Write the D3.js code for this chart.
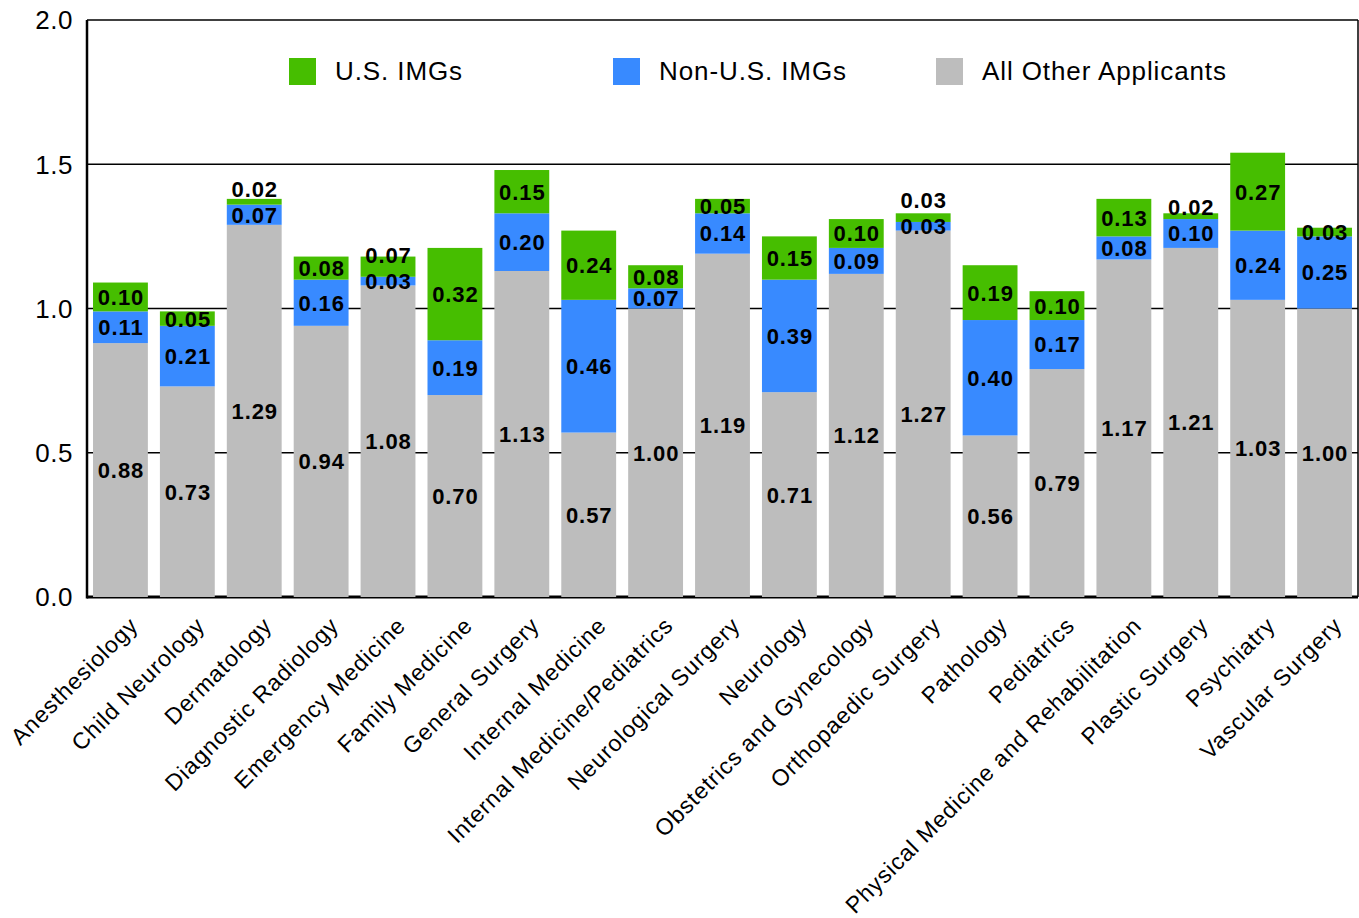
<!DOCTYPE html>
<html><head><meta charset="utf-8">
<script src="https://cdn.jsdelivr.net/npm/d3@7"></script>
<style>
html,body{margin:0;padding:0;background:#fff;}
svg{display:block;font-family:"Liberation Sans",Arial,sans-serif;}
</style></head>
<body>
<svg id="chart" width="1359" height="918"></svg>
<script>
const categories = ["Anesthesiology","Child Neurology","Dermatology","Diagnostic Radiology","Emergency Medicine","Family Medicine","General Surgery","Internal Medicine","Internal Medicine/Pediatrics","Neurological Surgery","Neurology","Obstetrics and Gynecology","Orthopaedic Surgery","Pathology","Pediatrics","Physical Medicine and Rehabilitation","Plastic Surgery","Psychiatry","Vascular Surgery"];
const allOther = [0.88,0.73,1.29,0.94,1.08,0.70,1.13,0.57,1.00,1.19,0.71,1.12,1.27,0.56,0.79,1.17,1.21,1.03,1.00];
const nonUSIMG = [0.11,0.21,0.07,0.16,0.03,0.19,0.20,0.46,0.07,0.14,0.39,0.09,0.03,0.40,0.17,0.08,0.10,0.24,0.25];
const usIMG    = [0.10,0.05,0.02,0.08,0.07,0.32,0.15,0.24,0.08,0.05,0.15,0.10,0.03,0.19,0.10,0.13,0.02,0.27,0.03];
const yTicks = [0.0,0.5,1.0,1.5,2.0];
const seriesNames = ["U.S. IMGs","Non-U.S. IMGs","All Other Applicants"];
const seriesColors = ["#46be00","#388aff","#bdbdbd"];

const svg = d3.select("#chart");
const L = 87, R = 1358, T = 20, B = 597;

const x = d3.scaleBand().domain(categories).range([L, R]).paddingInner(0.18).paddingOuter(0.09);
const y = d3.scaleLinear().domain([0, 2]).range([B, T]);

const rows = categories.map((c, i) => ({cat: c, other: allOther[i], non: nonUSIMG[i], us: usIMG[i]}));
const stack = d3.stack().keys(["other","non","us"])(rows);
const colorByKey = {other: seriesColors[2], non: seriesColors[1], us: seriesColors[0]};

// gridlines
svg.append("g").selectAll("line").data(yTicks.filter(t => t > 0 && t < 2)).join("line")
  .attr("x1", L).attr("x2", R).attr("y1", d => y(d)).attr("y2", d => y(d))
  .attr("stroke", "#000").attr("stroke-width", 1.3);

// bottom axis line (under bars)
svg.append("line").attr("x1", L).attr("x2", R).attr("y1", B).attr("y2", B)
  .attr("stroke", "#000").attr("stroke-width", 3);

// bars
svg.append("g").selectAll("g").data(stack).join("g")
  .attr("fill", d => colorByKey[d.key])
  .selectAll("rect").data(d => d).join("rect")
  .attr("x", d => x(d.data.cat))
  .attr("width", x.bandwidth())
  .attr("y", d => y(d[1]))
  .attr("height", d => y(d[0]) - y(d[1]));

// frame
svg.append("line").attr("x1", L).attr("x2", L).attr("y1", T).attr("y2", B + 1.5).attr("stroke", "#000").attr("stroke-width", 2.5);
svg.append("line").attr("x1", L).attr("x2", R).attr("y1", T).attr("y2", T).attr("stroke", "#000").attr("stroke-width", 1.5);
svg.append("line").attr("x1", R).attr("x2", R).attr("y1", T).attr("y2", B).attr("stroke", "#000").attr("stroke-width", 1.5);

// value labels
const labelG = svg.append("g").attr("font-size", 22).attr("font-weight", "bold").attr("text-anchor", "middle").attr("letter-spacing", 0.9).attr("fill", "#000");
rows.forEach((r, i) => {
  const cx = x(r.cat) + x.bandwidth() / 2 + 0.5;
  const c0 = (y(0) + y(r.other)) / 2;
  const c1 = (y(r.other) + y(r.other + r.non)) / 2;
  let c2 = (y(r.other + r.non) + y(r.other + r.non + r.us)) / 2;
  if (c1 - c2 < 20) c2 = c1 - 26;
  [[c0, r.other], [c1, r.non], [c2, r.us]].forEach(([cy, v]) => {
    labelG.append("text").attr("x", cx).attr("y", cy).attr("dy", "0.36em").text(v.toFixed(2));
  });
});

// y axis labels
svg.append("g").selectAll("text").data(yTicks).join("text")
  .attr("x", 73).attr("y", d => y(d)).attr("dy", "0.36em")
  .attr("text-anchor", "end").attr("font-size", 26).attr("letter-spacing", 0.5)
  .text(d => d.toFixed(1));

// category labels
svg.append("g").selectAll("text").data(categories).join("text")
  .attr("transform", d => `translate(${x(d) + x.bandwidth() / 2 + 19},${B + 30}) rotate(-45)`)
  .attr("text-anchor", "end").attr("font-size", 23).attr("letter-spacing", 0.9)
  .text(d => d);

// legend
const legX = [289, 613, 936];
const leg = svg.append("g");
seriesNames.forEach((n, i) => {
  leg.append("rect").attr("x", legX[i]).attr("y", 58).attr("width", 27).attr("height", 27).attr("fill", seriesColors[i]);
  leg.append("text").attr("x", legX[i] + 46).attr("y", 71).attr("dy", "0.36em")
    .attr("font-size", 26).attr("letter-spacing", 0.9).text(n);
});
</script>
</body></html>
